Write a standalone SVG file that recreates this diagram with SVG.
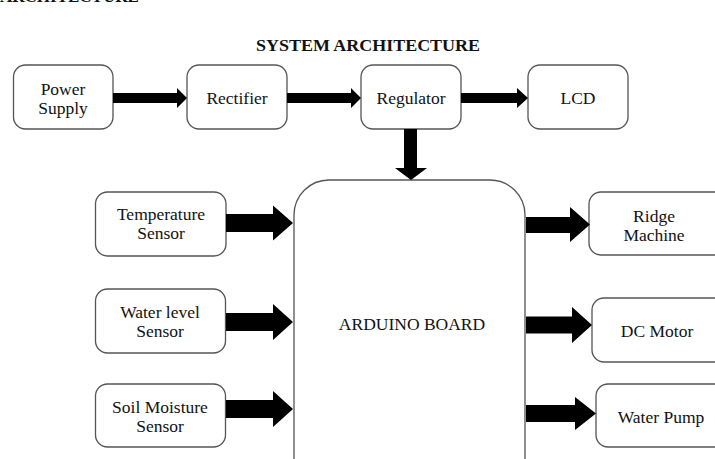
<svg xmlns="http://www.w3.org/2000/svg" width="715" height="459" viewBox="0 0 715 459">
<style>
.box{fill:#fff;stroke:#555;stroke-width:1.3}
.t{font-family:'Liberation Serif','Times New Roman',Times,'DejaVu Serif',serif;font-size:17.5px;fill:#111;text-anchor:middle}
.title{font-family:'Liberation Serif','Times New Roman',Times,'DejaVu Serif',serif;font-size:17px;font-weight:bold;fill:#111;text-anchor:middle}
.arr{fill:#000}
</style>
<rect width="715" height="459" fill="#fff"/>
<text class="title" x="0" y="1.5" style="text-anchor:start">ARCHITECTURE</text>
<text class="title" x="368" y="51" textLength="224" lengthAdjust="spacingAndGlyphs">SYSTEM ARCHITECTURE</text>

<g id="power-supply"><rect class="box" x="13.5" y="65" width="99.5" height="64" rx="12"/><text class="t" x="63" y="95">Power</text><text class="t" x="63" y="114">Supply</text></g>
<g id="rectifier"><rect class="box" x="187" y="65" width="100" height="64" rx="12"/><text class="t" x="237" y="104">Rectifier</text></g>
<g id="regulator"><rect class="box" x="361" y="65" width="100" height="64" rx="12"/><text class="t" x="411" y="104">Regulator</text></g>
<g id="lcd"><rect class="box" x="528" y="65" width="100" height="64" rx="12"/><text class="t" x="578" y="104">LCD</text></g>

<g id="arduino"><rect class="box" x="294" y="180" width="231" height="320" rx="35"/><text class="t" x="412" y="330">ARDUINO BOARD</text></g>

<g id="temperature-sensor"><rect class="box" x="95.5" y="192" width="130.5" height="64" rx="12"/><text class="t" x="161" y="220">Temperature</text><text class="t" x="161" y="239">Sensor</text></g>
<g id="water-level-sensor"><rect class="box" x="95.5" y="289" width="130" height="64" rx="12"/><text class="t" x="160" y="318">Water level</text><text class="t" x="160" y="337">Sensor</text></g>
<g id="soil-moisture-sensor"><rect class="box" x="95.5" y="384" width="130" height="63" rx="12"/><text class="t" x="160" y="413">Soil Moisture</text><text class="t" x="160" y="432">Sensor</text></g>

<g id="ridge-machine"><rect class="box" x="589" y="192" width="150" height="63" rx="12"/><text class="t" x="654" y="222">Ridge</text><text class="t" x="654" y="241">Machine</text></g>
<g id="dc-motor"><rect class="box" x="592" y="298" width="150" height="64" rx="12"/><text class="t" x="657" y="337">DC Motor</text></g>
<g id="water-pump"><rect class="box" x="596" y="384" width="150" height="63" rx="12"/><text class="t" x="661" y="423">Water Pump</text></g>

<g id="connectors" class="arr">
<polygon points="113,93 177,93 177,88 187,98 177,108 177,103 113,103"/>
<polygon points="287,93 351,93 351,88 361,98 351,108 351,103 287,103"/>
<polygon points="461,93 517,93 517,88 528,98 517,108 517,103 461,103"/>
<polygon points="404,129 417,129 417,168 427,168 411,180 395,168 404,168"/>
<polygon points="226,214 273,214 273,205.5 293,223 273,240.5 273,232 226,232"/>
<polygon points="226,313 273,313 273,304 293,322 273,340 273,331 226,331"/>
<polygon points="226,400 273,400 273,391 293,409 273,427 273,418 226,418"/>
<polygon points="526,217 570,217 570,207 590,224.5 570,242 570,233 526,233"/>
<polygon points="526,316.5 572,316.5 572,307 592,325 572,343 572,333.5 526,333.5"/>
<polygon points="526,405 575,405 575,397 596,413.5 575,430 575,422 526,422"/>
</g>
</svg>
